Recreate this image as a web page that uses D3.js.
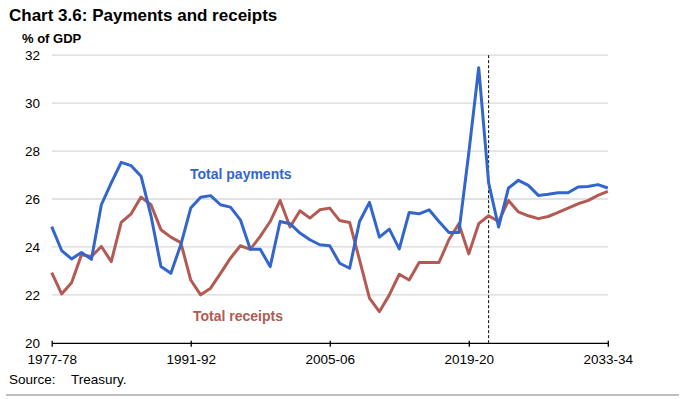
<!DOCTYPE html>
<html><head><meta charset="utf-8">
<script src="https://cdn.jsdelivr.net/npm/d3@7"></script>
<style>body{margin:0;background:#fff;}svg{display:block;font-family:"Liberation Sans",Arial,sans-serif;}</style>
</head><body>
<svg id="c" width="685" height="399"></svg>
<script>
const years = ["1977-78","1978-79","1979-80","1980-81","1981-82","1982-83","1983-84","1984-85","1985-86","1986-87",
"1987-88","1988-89","1989-90","1990-91","1991-92","1992-93","1993-94","1994-95","1995-96","1996-97",
"1997-98","1998-99","1999-00","2000-01","2001-02","2002-03","2003-04","2004-05","2005-06","2006-07",
"2007-08","2008-09","2009-10","2010-11","2011-12","2012-13","2013-14","2014-15","2015-16","2016-17",
"2017-18","2018-19","2019-20","2020-21","2021-22","2022-23","2023-24","2024-25","2025-26","2026-27",
"2027-28","2028-29","2029-30","2030-31","2031-32","2032-33","2033-34"];
const payments = [24.85,23.85,23.5,23.77,23.48,25.76,26.67,27.53,27.39,26.95,
25.3,23.18,22.9,24.09,25.62,26.07,26.14,25.76,25.66,25.13,
23.9,23.9,23.18,25.06,24.97,24.58,24.3,24.09,24.05,23.32,
23.11,25.06,25.86,24.41,24.74,23.92,25.44,25.38,25.55,25.06,
24.6,24.6,27.92,31.48,26.67,24.83,26.46,26.78,26.57,26.15,
26.2,26.26,26.26,26.5,26.52,26.6,26.46];
const receipts = [22.93,22.04,22.51,23.67,23.6,24.02,23.39,25.02,25.38,26.08,
25.76,24.72,24.41,24.18,22.62,22.0,22.28,22.9,23.53,24.05,
23.9,24.44,25.06,25.94,24.83,25.51,25.2,25.55,25.62,25.1,
25.02,23.46,21.86,21.3,22.0,22.86,22.62,23.35,23.35,23.35,
24.3,24.97,23.71,24.97,25.3,25.06,25.94,25.46,25.3,25.18,
25.27,25.44,25.62,25.8,25.93,26.15,26.32];
const xTicks = ["1977-78","1991-92","2005-06","2019-20","2033-34"];
const yTicks = [20,22,24,26,28,30,32];
const forecastStart = "2021-22";

const svg = d3.select("#c");
const x = d3.scalePoint().domain(years).range([51.7, 607.8]);
const y = d3.scaleLinear().domain([20,32]).range([342.8, 55.2]);
const blue = "#3366CC", red = "#B35A53";

// title
svg.append("text").attr("x",9).attr("y",21).attr("font-size",17).attr("font-weight","bold").text("Chart 3.6: Payments and receipts");
svg.append("text").attr("x",22).attr("y",43).attr("font-size",13).attr("font-weight","bold").text("% of GDP");

// gridlines
svg.append("g").selectAll("line").data(yTicks.filter(d=>d>20)).join("line")
  .attr("x1",x.range()[0]).attr("x2",x.range()[1])
  .attr("y1",d=>y(d)).attr("y2",d=>y(d)).attr("stroke","#d9d9d9").attr("stroke-width",1.3);

// y labels
svg.append("g").selectAll("text").data(yTicks).join("text")
  .attr("x",40).attr("y",d=>y(d)).attr("dy","0.36em").attr("text-anchor","end")
  .attr("font-size",13.5).text(d=>d);

// x axis
const xa = svg.append("g").attr("transform",`translate(0,${y(20)})`)
  .call(d3.axisBottom(x).tickValues(xTicks).tickSize(4).tickSizeOuter(0).tickPadding(8));
xa.select(".domain").attr("stroke","#000").attr("stroke-width",1.3);
xa.selectAll(".tick line").attr("stroke","#000").attr("stroke-width",1.3).attr("y1",-2);
xa.selectAll(".tick text").attr("font-size",13.5).attr("font-family","'Liberation Sans',Arial,sans-serif").attr("fill","#000");

// dashed forecast line
svg.append("line").attr("x1",x(forecastStart)).attr("x2",x(forecastStart))
  .attr("y1",y(32)).attr("y2",y(20)).attr("stroke","#000").attr("stroke-width",1).attr("stroke-dasharray","3,2");

// lines
const line = d3.line().x((d,i)=>x(years[i])).y(d=>y(d));
svg.append("path").datum(receipts).attr("d",line).attr("fill","none").attr("stroke",red).attr("stroke-width",3).attr("stroke-linejoin","round");
svg.append("path").datum(payments).attr("d",line).attr("fill","none").attr("stroke",blue).attr("stroke-width",3).attr("stroke-linejoin","round");

// labels
svg.append("text").attr("x",190).attr("y",179).attr("font-size",14).attr("font-weight","bold").attr("fill",blue).text("Total payments");
svg.append("text").attr("x",193).attr("y",321).attr("font-size",14).attr("font-weight","bold").attr("fill",red).text("Total receipts");

// source
svg.append("text").attr("x",9).attr("y",384).attr("font-size",13.5).text("Source:");
svg.append("text").attr("x",71).attr("y",384).attr("font-size",13.5).text("Treasury.");
svg.append("line").attr("x1",6).attr("x2",679).attr("y1",395).attr("y2",395).attr("stroke","#bfbfbf").attr("stroke-width",2);
</script>
</body></html>
